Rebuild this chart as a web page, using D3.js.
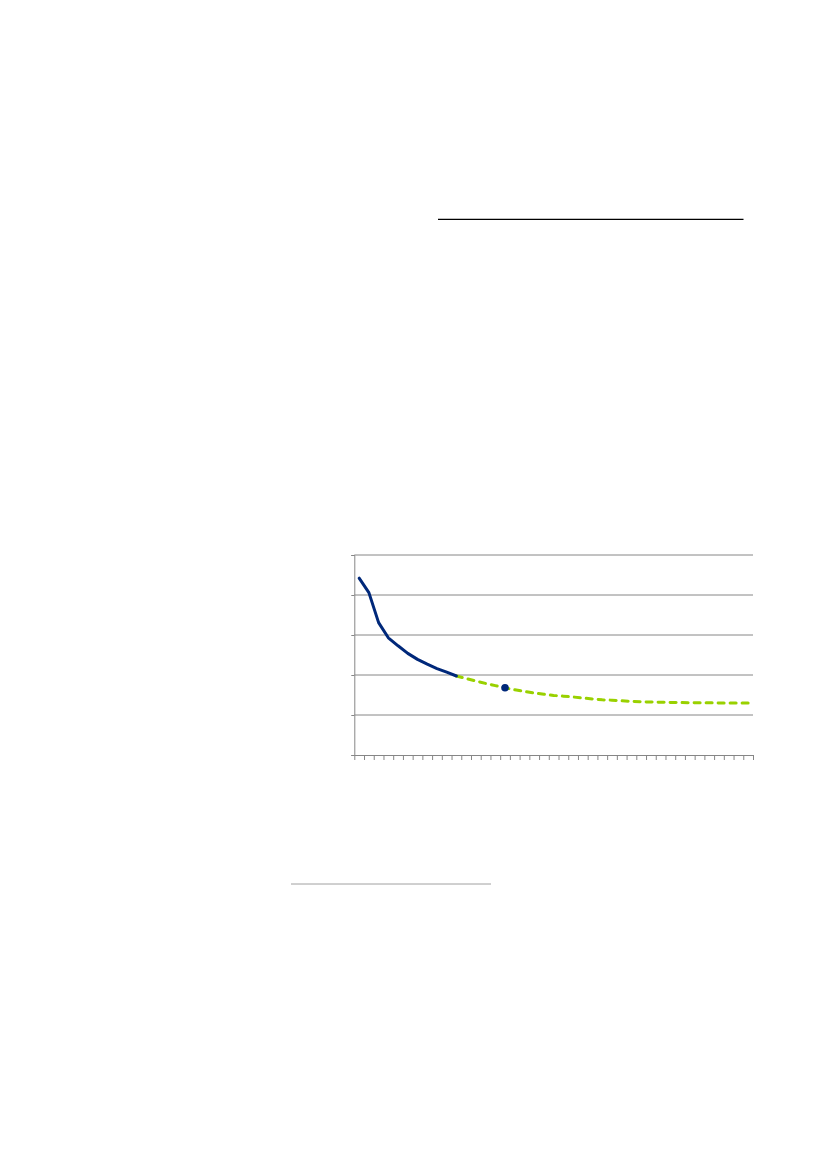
<!DOCTYPE html>
<html>
<head>
<meta charset="utf-8">
<script src="https://cdn.jsdelivr.net/npm/d3@7"></script>
<style>
  body { margin: 0; background: #fff; }
  svg { display: block; }
</style>
</head>
<body>
<svg id="page"></svg>
<script>
// categories (41 periods, labels not printed on the chart)
const categories = [1, 2, 3, 4, 5, 6, 7, 8, 9, 10, 11, 12, 13, 14, 15, 16, 17, 18, 19, 20,
  21, 22, 23, 24, 25, 26, 27, 28, 29, 30, 31, 32, 33, 34, 35, 36, 37, 38, 39, 40, 41];

// observed series (solid navy), first 11 periods
const actualValues = [44.2, 40.6, 33.1, 29.3, 27.3, 25.4, 23.9, 22.7, 21.6, 20.7, 19.75];

// projected series (dashed green), from period 11 to 41
const projectedValues = [19.75, 19.1, 18.5, 17.9, 17.35, 16.8, 16.3, 15.9, 15.5, 15.2,
  14.9, 14.7, 14.5, 14.25, 14.0, 13.8, 13.7, 13.55, 13.4, 13.3,
  13.25, 13.2, 13.15, 13.1, 13.08, 13.05, 13.05, 13.0, 13.0, 13.0, 13.0];
const projectedStart = 10;

// single highlighted point
const markerIndex = 15;
const markerValue = 16.8;

const yTicks = [0, 10, 20, 30, 40, 50];

const W = 827, H = 1169;
const plot = { left: 354.3, right: 753, top: 555, bottom: 755 };

const svg = d3.select("#page")
  .attr("width", W)
  .attr("height", H);

// decorative rules of the page
svg.append("line")
  .attr("x1", 438).attr("x2", 743.5)
  .attr("y1", 219.3).attr("y2", 219.3)
  .attr("stroke", "#000").attr("stroke-width", 1.3);

svg.append("line")
  .attr("x1", 291).attr("x2", 491)
  .attr("y1", 884).attr("y2", 884)
  .attr("stroke", "#a0a0a0").attr("stroke-width", 1);

const xScale = d3.scaleBand()
  .domain(categories)
  .range([plot.left, plot.right]);

// same range, used for the boundary ticks of the category axis
const xEdge = d3.scaleLinear()
  .domain([0, categories.length])
  .range([plot.left, plot.right]);

const yScale = d3.scaleLinear()
  .domain([0, 50])
  .range([plot.bottom, plot.top]);

const grey = "#868686";

// gridlines
svg.append("g")
  .selectAll("line")
  .data(yTicks.filter(d => d > 0))
  .enter()
  .append("line")
  .attr("x1", plot.left).attr("x2", plot.right)
  .attr("y1", d => yScale(d)).attr("y2", d => yScale(d))
  .attr("stroke", grey).attr("stroke-width", 1);

// Y axis
const yAxis = d3.axisLeft(yScale)
  .tickValues(yTicks)
  .tickSize(3)
  .tickFormat("");

const gy = svg.append("g")
  .attr("transform", `translate(${plot.left},0)`)
  .call(yAxis);
gy.select(".domain").attr("stroke", grey);
gy.selectAll(".tick line").attr("stroke", grey);

// X axis
const xAxis = d3.axisBottom(xEdge)
  .tickValues(d3.range(categories.length + 1))
  .tickSize(5)
  .tickSizeOuter(0)
  .tickFormat("");

const gx = svg.append("g")
  .attr("transform", `translate(0,${plot.bottom})`)
  .call(xAxis);
gx.select(".domain").attr("stroke", grey);
gx.selectAll(".tick line").attr("stroke", grey);

const cx = i => xScale(categories[i]) + xScale.bandwidth() / 2;

const line = d3.line()
  .x(d => cx(d.i))
  .y(d => yScale(d.v));

const actualData = actualValues.map((v, i) => ({ i: i, v: v }));
const projectedData = projectedValues.map((v, i) => ({ i: i + projectedStart, v: v }));

svg.append("path")
  .datum(projectedData)
  .attr("d", line)
  .attr("fill", "none")
  .attr("stroke", "#99d100")
  .attr("stroke-width", 3)
  .attr("stroke-dasharray", "6,6")
  .attr("stroke-linecap", "round");

svg.append("path")
  .datum(actualData)
  .attr("d", line)
  .attr("fill", "none")
  .attr("stroke", "#00287a")
  .attr("stroke-width", 3)
  .attr("stroke-linejoin", "round")
  .attr("stroke-linecap", "round");

svg.append("circle")
  .attr("cx", cx(markerIndex))
  .attr("cy", yScale(markerValue))
  .attr("r", 3.8)
  .attr("fill", "#00287a");
</script>
</body>
</html>
